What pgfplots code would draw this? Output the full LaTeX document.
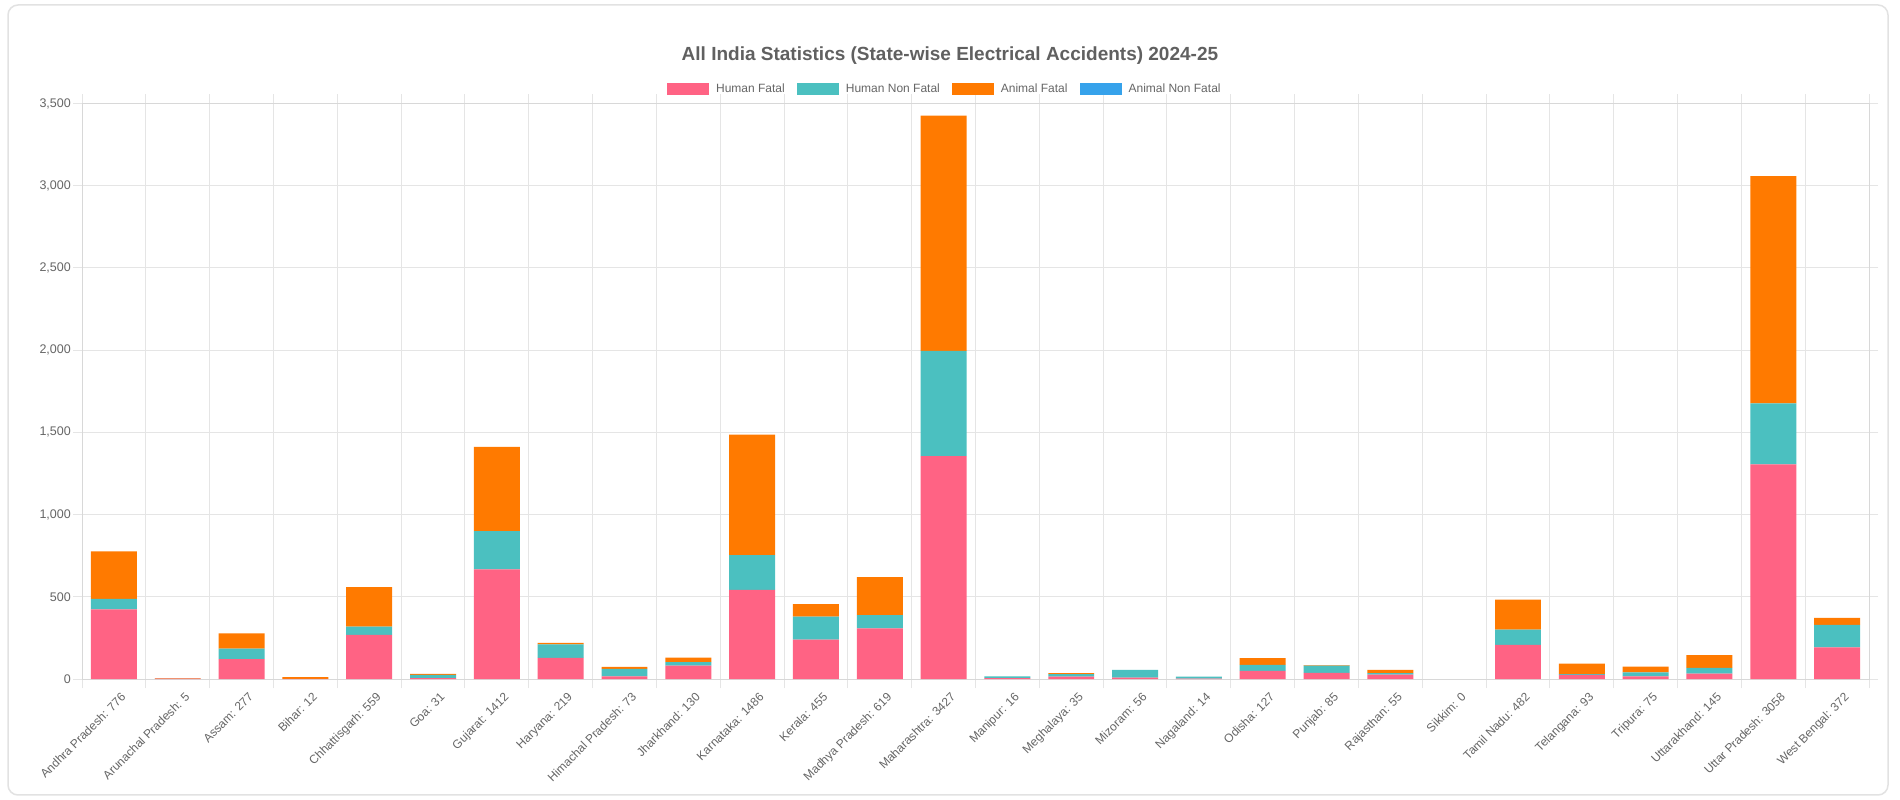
\documentclass[border=0pt]{standalone}
\usepackage{pgfplots}
\usepackage{pgfplotstable}
\pgfplotsset{compat=1.18}
\usepackage{fontspec}
\setmainfont{Liberation Sans}
\definecolor{hf}{RGB}{255,99,132}
\definecolor{hnf}{RGB}{75,192,192}
\definecolor{af}{RGB}{255,122,0}
\definecolor{anf}{RGB}{54,162,235}
\definecolor{txt}{RGB}{102,102,102}
\definecolor{ttl}{RGB}{96,96,96}
\definecolor{gridc}{RGB}{229,229,229}
\definecolor{axisc}{RGB}{216,216,216}
\definecolor{cardc}{RGB}{226,226,226}
\pgfplotstableread{
x HF HNF AF
0 423 65 288
1 2 1 2
2 121 64 92
3 1 0 11
4 268 50 241
5 5 20 6
6 667 233 512
7 129 81 9
8 16 45 12
9 81 22 27
10 542 212 732
11 240 139 76
12 308 81 230
13 1356 640 1431
14 5 11 0
15 15 15 5
16 8 48 0
17 2 12 0
18 50 36 41
19 37 44 4
20 26 10 19
21 0 0 0
22 208 92 182
23 25 4 64
24 16 24 35
25 32 35 78
26 1305 371 1382
27 192 137 43
}\datatable
\pgfplotsset{boxlegend/.style={legend image code/.code={\fill[##1] (0pt,-6pt) rectangle (42pt,6pt);}}}
\begin{document}
\begin{tikzpicture}
\useasboundingbox (0,0) rectangle (1900pt,800pt);
\fill[white] (0,0) rectangle (1900pt,800pt);
\draw[cardc, line width=1.5pt, rounded corners=10pt] (8pt,5pt) rectangle (1888pt,795pt);
\begin{axis}[
  at={(82pt,121pt)}, anchor=south west,
  width=1787pt, height=575.5pt, scale only axis,
  ybar stacked, bar width=0.72,
  xmin=-0.5, xmax=27.5, ymin=0, ymax=3500,
  xtick={0,...,27},
  xticklabels={Andhra Pradesh: 776, Arunachal Pradesh: 5, Assam: 277, Bihar: 12, Chhattisgarh: 559, Goa: 31, Gujarat: 1412, Haryana: 219, Himachal Pradesh: 73, Jharkhand: 130, Karnataka: 1486, Kerala: 455, Madhya Pradesh: 619, Maharashtra: 3427, Manipur: 16, Meghalaya: 35, Mizoram: 56, Nagaland: 14, Odisha: 127, Punjab: 85, Rajasthan: 55, Sikkim: 0, Tamil Nadu: 482, Telangana: 93, Tripura: 75, Uttarakhand: 145, Uttar Pradesh: 3058, West Bengal: 372},
  minor xtick={-0.5,0.5,...,27.5},
  ytick={0,500,...,3500},
  xminorgrids=true, ymajorgrids=true, xmajorgrids=false,
  grid style={draw=gridc, line width=1pt},
  minor grid style={draw=gridc, line width=1pt},
  tick align=outside, major tick length=9pt, minor tick length=9pt,
  tick style={draw=gridc, line width=1pt},
  major x tick style={draw=none},
  axis line style={draw=axisc, line width=1pt},
  /pgf/number format/assume math mode=true,
  /pgf/number format/1000 sep={,},
  yticklabel style={font=\fontsize{12.5}{14}\selectfont, text=txt, anchor=east, inner sep=0pt, xshift=-2pt},
  xticklabel style={font=\fontsize{12}{14}\selectfont, text=txt, rotate=45, anchor=north east, inner sep=0pt, xshift=2pt, yshift=-7pt},
  title={All India Statistics (State-wise Electrical Accidents) 2024-25},
  title style={at={(0.4857,1.0721)}, anchor=center, font=\fontsize{19}{21}\selectfont\bfseries, text=ttl, inner sep=0pt},
  legend columns=-1,
  legend style={at={(0.4823,1.026)}, anchor=center, draw=none, fill=none,
    font=\fontsize{12}{14}\selectfont, text=txt,
    nodes={inner sep=0pt, anchor=west},
    /tikz/every odd column/.append style={column sep=7pt},
    /tikz/every even column/.append style={column sep=12pt}},
]
\addplot[fill=hf, draw=none, boxlegend] table[x=x, y=HF] {\datatable};
\addlegendentry{Human Fatal}
\addplot[fill=hnf, draw=none, boxlegend] table[x=x, y=HNF] {\datatable};
\addlegendentry{Human Non Fatal}
\addplot[fill=af, draw=none, boxlegend] table[x=x, y=AF] {\datatable};
\addlegendentry{Animal Fatal}
\addlegendimage{fill=anf, draw=none, boxlegend}
\addlegendentry{Animal Non Fatal}
\end{axis}
\end{tikzpicture}
\end{document}
